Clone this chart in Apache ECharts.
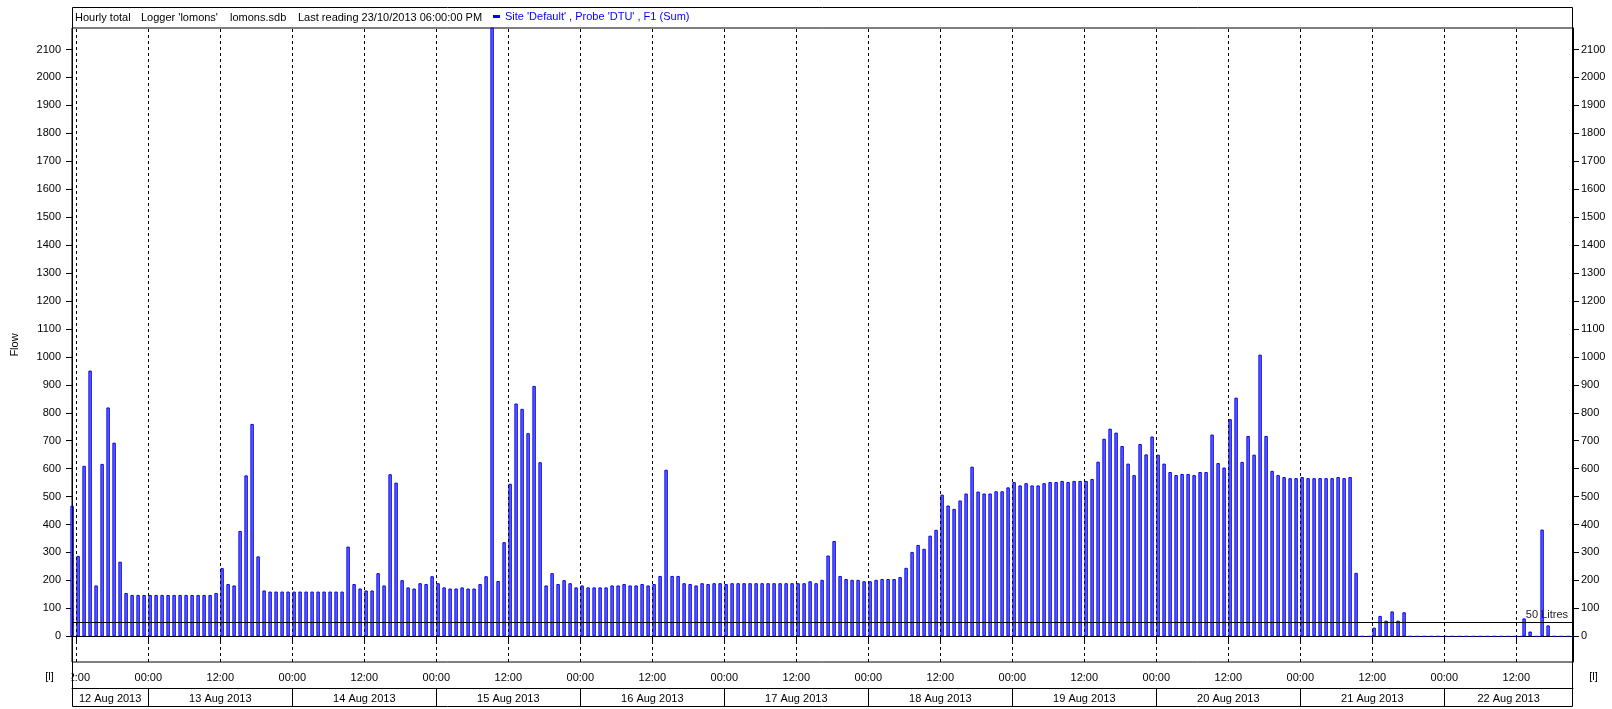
<!DOCTYPE html>
<html>
<head>
<meta charset="utf-8">
<script src="https://cdn.jsdelivr.net/npm/echarts@6/dist/echarts.min.js"></script>
<style>
html,body{margin:0;padding:0;background:#fff;}
#chart{width:1612px;height:709px;}
</style>
</head>
<body>
<div id="chart"></div>
<script>
// hourly totals (litres), one array per day; 12 Aug starts at 11:00
var firstHour = 11;
var aug12 = [467,288,610,951,182,617,819,693,267,155,148,148,148];
var aug13 = [148,148,148,148,148,148,148,148,148,148,148,155,244,187,182,377,576,760,286,164,160,160,160,160];
var aug14 = [160,160,160,160,160,160,160,160,160,321,187,171,164,164,226,182,580,550,201,175,171,190,187,215];
var aug15 = [190,175,171,171,175,171,171,187,215,2500,198,337,546,833,814,727,896,623,182,226,187,201,190,175];
var aug16 = [182,175,175,175,175,182,182,187,182,182,187,182,187,216,596,216,216,190,187,182,190,187,190,190];
var aug17 = [187,190,190,190,190,190,190,190,190,190,190,190,190,190,197,190,202,289,341,216,205,202,202,197];
var aug18 = [197,202,205,205,205,212,245,302,327,313,360,381,507,468,456,486,511,607,518,511,511,519,519,533];
var aug19 = [552,540,548,540,540,548,552,552,556,552,556,556,556,563,625,707,743,729,681,618,577,688,651,715];
var aug20 = [650,618,588,577,581,581,577,588,588,722,620,604,777,854,624,717,650,1008,717,592,577,570,566,566];
var aug21 = [570,566,566,566,566,566,570,566,570,227,0,0,31,73,56,89,56,86,0,0,0,0,0,0];
var aug22 = [0,0,0,0,0,0,0,0,0,0,0,0,0,64,17,0,382,39,0,0,0,0];

// axis texts (hours counted from 12 Aug 00:00)
var timeTicks = [12,24,36,48,60,72,84,96,108,120,132,144,156,168,180,192,204,216,228,240,252];
var dayBounds = [24,48,72,96,120,144,168,192,216,240];
var dayLabels = ['12 Aug 2013','13 Aug 2013','14 Aug 2013','15 Aug 2013','16 Aug 2013','17 Aug 2013',
                 '18 Aug 2013','19 Aug 2013','20 Aug 2013','21 Aug 2013','22 Aug 2013'];
var flowTicks = [0,100,200,300,400,500,600,700,800,900,1000,1100,1200,1300,1400,1500,1600,1700,1800,1900,2000,2100];
var threshold = 50;
var seriesName = "Site 'Default' , Probe 'DTU' , F1 (Sum)";

var xMin = 11.283, xMax = 261.45;
var barShift = 0.3;
var font = '"Liberation Sans", Arial, sans-serif';

// build bars and the dashed zero line
var all = [].concat(aug12,aug13,aug14,aug15,aug16,aug17,aug18,aug19,aug20,aug21,aug22);
var bars = [], zeroLine = [];
all.forEach(function(v,i){
    var t = firstHour + i;
    if(v === 0){
        bars.push([t + barShift, '-']);
        zeroLine.push([t, 0]);
        zeroLine.push([t + 1, 0]);
    } else {
        bars.push([t + barShift, v]);
        zeroLine.push([t + 0.5, '-']);
    }
});

// date cells
var edges = [xMin].concat(dayBounds).concat([xMax]);
var dayCenters = [], dayByCenter = {};
for(var i=0;i<dayLabels.length;i++){
    var c = +( (edges[i] + edges[i+1]) / 2 ).toFixed(3);
    dayCenters.push(c);
    dayByCenter[c] = dayLabels[i];
}

var plain = function(v){ return String(v); };

var option = {
    animation:false,
    backgroundColor:'#fff',
    textStyle:{fontFamily:font, fontSize:11, color:'#000'},
    grid:{
        left:72, right:39, top:28, bottom:47,
        show:true, borderColor:'#000', borderWidth:1
    },
    legend:{
        left:493, top:11, padding:0,
        icon:'rect', itemWidth:7, itemHeight:3,
        selectedMode:false,
        data:[{name:seriesName, itemStyle:{color:'#0000ff', borderWidth:0}}],
        textStyle:{color:'#0000ff', fontSize:11, fontFamily:font}
    },
    xAxis:[{
        type:'value', min:xMin, max:xMax,
        axisLine:{show:true, lineStyle:{color:'#000'}},
        axisTick:{show:true, length:6, customValues:timeTicks, lineStyle:{color:'#000'}},
        axisLabel:{customValues:timeTicks, margin:10, color:'#000', fontSize:11,
            formatter:function(v){ return (v % 24 === 0) ? '00:00' : '12:00'; }},
        splitLine:{show:false}
    },{
        type:'value', min:xMin, max:xMax, position:'bottom', offset:26,
        axisLine:{show:true, onZero:false, lineStyle:{color:'#000'}},
        axisTick:{show:true, length:18, customValues:dayBounds, lineStyle:{color:'#000'}},
        axisLabel:{customValues:dayCenters, margin:5, color:'#000', fontSize:11,
            formatter:function(v){ return dayByCenter[+(+v).toFixed(3)] || ''; }},
        splitLine:{show:false}
    }],
    yAxis:[{
        type:'value', min:-92, max:2177,
        name:'Flow', nameLocation:'middle', nameGap:52, nameRotate:90,
        nameTextStyle:{color:'#000', fontSize:11, fontFamily:font},
        axisLine:{show:true, lineStyle:{color:'#000'}},
        axisTick:{show:true, length:6, customValues:flowTicks, lineStyle:{color:'#000'}},
        axisLabel:{customValues:flowTicks, margin:11, color:'#000', fontSize:11, formatter:plain},
        splitLine:{show:false}
    },{
        type:'value', min:-92, max:2177, position:'right',
        axisLine:{show:true, lineStyle:{color:'#000'}},
        axisTick:{show:true, length:6, customValues:flowTicks, lineStyle:{color:'#000'}},
        axisLabel:{customValues:flowTicks, margin:8, color:'#000', fontSize:11, formatter:plain},
        splitLine:{show:false}
    }],
    series:[{
        name:seriesName,
        type:'bar',
        data:bars,
        barWidth:3.4,
        clip:true,
        itemStyle:{color:'#6b6bff', borderColor:'#0000ee', borderWidth:1},
        emphasis:{disabled:true},
        markLine:{
            silent:true, symbol:['none','none'], animation:false,
            label:{show:false},
            lineStyle:{color:'#000', type:[3,3], width:1},
            emphasis:{disabled:true},
            data:timeTicks.map(function(t){ return {xAxis:t}; })
        }
    },{
        name:'zero',
        type:'line',
        data:zeroLine,
        symbol:'none',
        connectNulls:false,
        clip:true,
        lineStyle:{color:'#0000ff', width:1, type:[4,3]},
        emphasis:{disabled:true},
        markLine:{
            silent:true, symbol:['none','none'], animation:false,
            lineStyle:{color:'#000', type:'solid', width:1},
            emphasis:{disabled:true},
            label:{show:true, position:'insideEndTop', formatter:threshold + ' Litres',
                   color:'#222', fontSize:11, fontFamily:font, distance:[5,2]},
            data:[{yAxis:threshold}]
        }
    }],
    graphic:[
        {type:'rect', z:50, shape:{x:56, y:668, width:15.5, height:19}, style:{fill:'#fff'}},
        {type:'rect', z:100, shape:{x:72.5, y:7.5, width:1500, height:699}, style:{fill:null, stroke:'#000', lineWidth:1}},
        {type:'text', z:100, x:75, y:18, style:{text:'Hourly total', fill:'#000', font:'11px ' + font, verticalAlign:'middle'}},
        {type:'text', z:100, x:141, y:18, style:{text:"Logger 'lomons'", fill:'#000', font:'11px ' + font, verticalAlign:'middle'}},
        {type:'text', z:100, x:230, y:18, style:{text:'lomons.sdb', fill:'#000', font:'11px ' + font, verticalAlign:'middle'}},
        {type:'text', z:100, x:298, y:18, style:{text:'Last reading 23/10/2013 06:00:00 PM', fill:'#000', font:'11px ' + font, verticalAlign:'middle'}},
        {type:'text', z:100, x:49.5, y:677, style:{text:'[l]', fill:'#000', font:'11px ' + font, align:'center', verticalAlign:'middle'}},
        {type:'text', z:100, x:1593.5, y:677, style:{text:'[l]', fill:'#000', font:'11px ' + font, align:'center', verticalAlign:'middle'}}
    ]
};

var chart = echarts.init(document.getElementById('chart'));
chart.setOption(option);
</script>
</body>
</html>
